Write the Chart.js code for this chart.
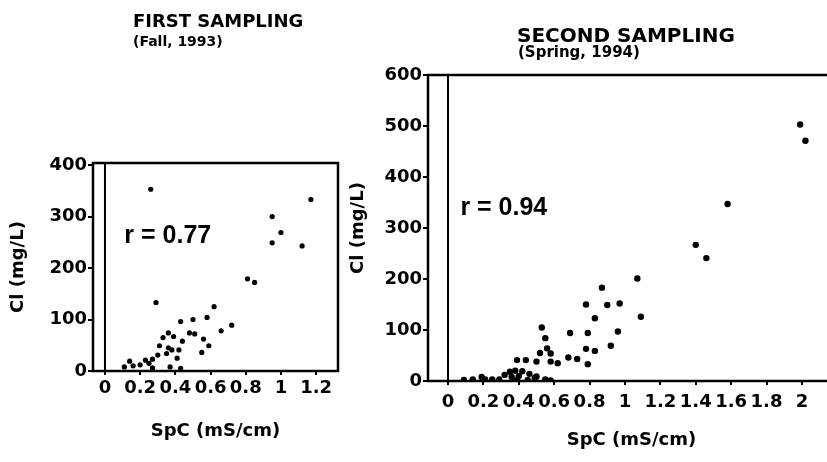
<!DOCTYPE html>
<html>
<head>
<meta charset="utf-8">
<script src="https://cdn.jsdelivr.net/npm/chart.js@4/dist/chart.umd.min.js"></script>
<style>
  html, body { margin: 0; padding: 0; background: #fff; overflow: hidden; }
  body { width: 827px; height: 462px; position: relative; }
  canvas { position: absolute; top: 0; }
  #first { left: 0; }
  #second { left: 340px; }
</style>
</head>
<body>
<canvas id="first" width="350" height="462"></canvas>
<canvas id="second" width="500" height="462"></canvas>
<script>
// first sampling (fall 1993) - SpC (mS/cm) vs Cl (mg/L)
const FIRST_SPC = [0.26, 1.17, 0.95, 1.00, 0.95, 1.12, 0.81, 0.85, 0.29, 0.62,
  0.58, 0.50, 0.43, 0.72, 0.66, 0.48, 0.51, 0.36, 0.39, 0.33,
  0.56, 0.44, 0.59, 0.31, 0.36, 0.38, 0.42, 0.55, 0.35, 0.30,
  0.41, 0.27, 0.23, 0.14, 0.25, 0.20, 0.16, 0.37, 0.43, 0.11, 0.27];
const FIRST_CL = [353, 333, 300, 269, 249, 243, 179, 172, 133, 125,
  104, 100, 96, 89, 78, 74, 72, 74, 67, 65,
  62, 58, 49, 49, 45, 41, 41, 36, 34, 31,
  25, 23, 21, 19, 15, 12, 10, 8, 5, 8, 6];

// second sampling (spring 1994)
const SECOND_SPC = [1.99, 2.02, 1.58, 1.40, 1.46, 1.07, 0.87, 0.78, 0.90, 0.97,
  0.83, 1.09, 0.53, 0.55, 0.69, 0.79, 0.96, 0.92, 0.78, 0.83,
  0.56, 0.52, 0.58, 0.68, 0.73, 0.39, 0.44, 0.50, 0.58, 0.62,
  0.79, 0.09, 0.14, 0.19, 0.21, 0.25, 0.29, 0.35, 0.38, 0.42,
  0.46, 0.40, 0.32, 0.39, 0.45, 0.55, 0.58, 0.49, 0.36, 0.50];
const SECOND_CL = [503, 471, 347, 267, 241, 201, 183, 150, 149, 152,
  123, 126, 105, 84, 94, 94, 97, 69, 63, 59,
  64, 55, 54, 46, 43, 41, 41, 38, 38, 35,
  33, 2, 3, 8, 3, 3, 3, 18, 20, 19,
  14, 10, 12, 2, 2, 3, 1, 6, 8, 9];

const FIRST_X_TICKS = [0, 0.2, 0.4, 0.6, 0.8, 1, 1.2];
const FIRST_Y_TICKS = [0, 100, 200, 300, 400];
const SECOND_X_TICKS = [0, 0.2, 0.4, 0.6, 0.8, 1, 1.2, 1.4, 1.6, 1.8, 2];
const SECOND_Y_TICKS = [0, 100, 200, 300, 400, 500, 600];

const FIRST_R = 0.77;
const SECOND_R = 0.94;

const FONT = 'DejaVu Sans';

// box round the plot, the line at x = 0, the r value and the headings
const framePlugin = {
  id: 'frame',
  afterDraw(chart, args, opts) {
    const { ctx, chartArea: a, scales } = chart;
    ctx.save();
    ctx.strokeStyle = '#000';
    ctx.fillStyle = '#000';
    ctx.lineWidth = 2.5;
    ctx.strokeRect(a.left, a.top, a.right - a.left, a.bottom - a.top);
    const x0 = scales.x.getPixelForValue(0);
    ctx.lineWidth = 2;
    ctx.beginPath();
    ctx.moveTo(x0, a.top);
    ctx.lineTo(x0, a.bottom);
    ctx.stroke();

    ctx.font = 'bold 25px "Liberation Sans"';
    ctx.textBaseline = 'middle';
    ctx.fillText('r = ' + opts.r.toFixed(2), scales.x.getPixelForValue(opts.rAt[0]), scales.y.getPixelForValue(opts.rAt[1]));

    ctx.textBaseline = 'alphabetic';
    opts.headings.forEach(h => {
      ctx.font = 'bold ' + h.size + 'px "' + FONT + '"';
      ctx.fillText(h.text, h.x, h.y);
    });
    ctx.restore();
  }
};

const fmt = v => String(Math.round(v * 10) / 10);

function makeChart(id, spc, cl, c) {
  const tickFont = { family: FONT, weight: 'bold', size: 18 };
  const titleFont = { family: FONT, weight: 'bold', size: 18 };
  return new Chart(document.getElementById(id), {
    type: 'scatter',
    data: {
      datasets: [{
        data: spc.map((x, i) => ({ x: x, y: cl[i] })),
        backgroundColor: '#000',
        borderWidth: 0,
        pointRadius: c.radius
      }]
    },
    options: {
      responsive: false,
      animation: false,
      devicePixelRatio: 1,
      layout: { padding: { top: c.top, right: c.right, left: 0, bottom: 0 } },
      plugins: {
        legend: { display: false },
        tooltip: { enabled: false },
        frame: { r: c.r, rAt: c.rAt, headings: c.headings }
      },
      scales: {
        x: {
          type: 'linear',
          min: c.xMin,
          max: c.xMax,
          afterBuildTicks: s => { s.ticks = c.xTicks.map(v => ({ value: v })); },
          afterFit: s => { s.height = c.xHeight; },
          border: { display: false },
          grid: { drawOnChartArea: false, color: '#000', lineWidth: 2, tickLength: 4 },
          ticks: { autoSkip: false, maxRotation: 0, padding: c.xPad, color: '#000', font: tickFont, callback: fmt },
          title: { display: true, text: 'SpC (mS/cm)', color: '#000', font: titleFont, padding: { top: 0, bottom: c.xTitlePad } }
        },
        y: {
          min: 0,
          max: c.yMax,
          afterBuildTicks: s => { s.ticks = c.yTicks.map(v => ({ value: v })); },
          afterFit: s => { s.width = c.yWidth; },
          border: { display: false },
          grid: { drawOnChartArea: false, color: '#000', lineWidth: 2, tickLength: 5 },
          ticks: { padding: 1, color: '#000', font: tickFont, callback: fmt },
          title: { display: true, text: 'Cl (mg/L)', color: '#000', font: titleFont, padding: { top: 8, bottom: 0 } }
        }
      }
    },
    plugins: [framePlugin]
  });
}

makeChart('first', FIRST_SPC, FIRST_CL, {
  radius: 2.6, top: 163, right: 12,
  xMin: -0.068, xMax: 1.324, xTicks: FIRST_X_TICKS, xHeight: 91, xPad: 3, xTitlePad: 20,
  yMax: 404, yTicks: FIRST_Y_TICKS, yWidth: 93,
  r: FIRST_R, rAt: [0.11, 262],
  headings: [
    { text: 'FIRST SAMPLING', x: 133, y: 27, size: 18 },
    { text: '(Fall, 1993)', x: 133, y: 46, size: 14 }
  ]
});

makeChart('second', SECOND_SPC, SECOND_CL, {
  radius: 3.2, top: 75, right: 5,
  xMin: -0.113, xMax: 2.187, xTicks: SECOND_X_TICKS, xHeight: 81, xPad: 7, xTitlePad: 11,
  yMax: 600, yTicks: SECOND_Y_TICKS, yWidth: 88,
  r: SECOND_R, rAt: [0.07, 339],
  headings: [
    { text: 'SECOND SAMPLING', x: 177, y: 42, size: 20 },
    { text: '(Spring, 1994)', x: 178, y: 57, size: 15 }
  ]
});
</script>
</body>
</html>
